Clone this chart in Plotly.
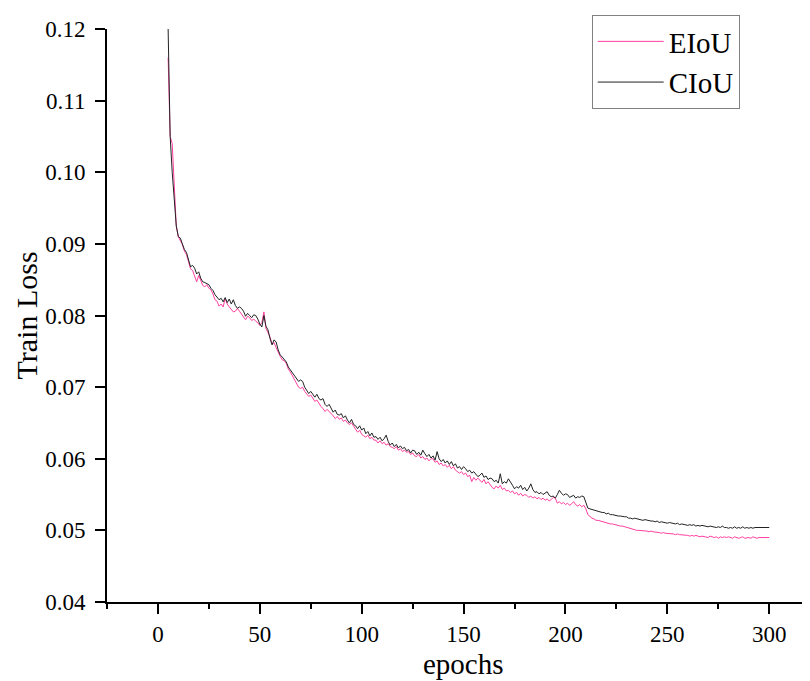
import plotly.graph_objects as go

epochs = list(range(5, 301))

ciou = [
    0.1200, 0.1050, 0.1000, 0.0960, 0.0925, 0.0910, 0.0908, 0.0900, 0.0892, 0.0888,  # 5-14
    0.0878, 0.0868, 0.0870, 0.0866, 0.0858, 0.0861, 0.0852, 0.0847, 0.0846, 0.0844,  # 15-24
    0.0843, 0.0838, 0.0835, 0.0829, 0.0826, 0.0822, 0.0824, 0.0819, 0.0825, 0.0818,  # 25-34
    0.0823, 0.0816, 0.0822, 0.0814, 0.0810, 0.0812, 0.0810, 0.0806, 0.0799, 0.0803,  # 35-44
    0.0800, 0.0797, 0.0801, 0.0800, 0.0795, 0.0788, 0.0784, 0.0800, 0.0785, 0.0780,  # 45-54
    0.0768, 0.0759, 0.0766, 0.0763, 0.0752, 0.0745, 0.0742, 0.0738, 0.0735, 0.0728,  # 55-64
    0.0724, 0.0720, 0.0716, 0.0712, 0.0708, 0.0710, 0.0708, 0.0700, 0.0695, 0.0691,  # 65-74
    0.0694, 0.0689, 0.0686, 0.0690, 0.0684, 0.0682, 0.0684, 0.0676, 0.0673, 0.0676,  # 75-84
    0.0670, 0.0665, 0.0668, 0.0662, 0.0661, 0.0663, 0.0657, 0.0660, 0.0654, 0.0650,  # 85-94
    0.0655, 0.0648, 0.0646, 0.0642, 0.0646, 0.0640, 0.0643, 0.0635, 0.0638, 0.0632,  # 95-104
    0.0636, 0.0630, 0.0631, 0.0627, 0.0630, 0.0625, 0.0628, 0.0633, 0.0624, 0.0619,  # 105-114
    0.0622, 0.0617, 0.0620, 0.0615, 0.0618, 0.0614, 0.0616, 0.0611, 0.0613, 0.0608,  # 115-124
    0.0612, 0.0611, 0.0606, 0.0609, 0.0605, 0.0612, 0.0607, 0.0603, 0.0606, 0.0601,  # 125-134
    0.0604, 0.0598, 0.0610, 0.0600, 0.0596, 0.0599, 0.0594, 0.0597, 0.0592, 0.0596,  # 135-144
    0.0590, 0.0593, 0.0587, 0.0589, 0.0585, 0.0589, 0.0586, 0.0582, 0.0584, 0.0580,  # 145-154
    0.0582, 0.0579, 0.0575, 0.0577, 0.0580, 0.0574, 0.0576, 0.0571, 0.0573, 0.0572,  # 155-164
    0.0568, 0.0570, 0.0566, 0.0579, 0.0565, 0.0568, 0.0566, 0.0572, 0.0568, 0.0563,  # 165-174
    0.0558, 0.0561, 0.0559, 0.0563, 0.0557, 0.0560, 0.0555, 0.0559, 0.0565, 0.0557,  # 175-184
    0.0553, 0.0554, 0.0551, 0.0553, 0.0550, 0.0552, 0.0554, 0.0549, 0.0547, 0.0548,  # 185-194
    0.0545, 0.0550, 0.0556, 0.0552, 0.0549, 0.0551, 0.0550, 0.0546, 0.0548, 0.0549,  # 195-204
    0.0545, 0.0547, 0.0546, 0.0548, 0.0547, 0.0540, 0.0531, 0.0530, 0.0529, 0.0528,  # 205-214
    0.0527, 0.0526, 0.0526, 0.0525, 0.0525, 0.0523, 0.0524, 0.0522, 0.0522, 0.0521,  # 215-224
    0.0521, 0.0520, 0.0520, 0.0519, 0.0519, 0.0519, 0.0517, 0.0517, 0.0516, 0.0517,  # 225-234
    0.0516, 0.0515, 0.0515, 0.0514, 0.0515, 0.0514, 0.0514, 0.0513, 0.0513, 0.0512,  # 235-244
    0.0513, 0.0511, 0.0512, 0.0511, 0.0511, 0.0510, 0.0511, 0.0510, 0.0509, 0.0509,  # 245-254
    0.0510, 0.0508, 0.0509, 0.0508, 0.0508, 0.0507, 0.0508, 0.0507, 0.0508, 0.0506,  # 255-264
    0.0507, 0.0506, 0.0507, 0.0506, 0.0506, 0.0505, 0.0506, 0.0505, 0.0505, 0.0504,  # 265-274
    0.0505, 0.0504, 0.0506, 0.0504, 0.0504, 0.0503, 0.0504, 0.0503, 0.0505, 0.0503,  # 275-284
    0.0504, 0.0503, 0.0505, 0.0503, 0.0504, 0.0503, 0.0504, 0.0503, 0.0504, 0.0504,  # 285-294
    0.0505, 0.0504, 0.0504, 0.0504, 0.0505, 0.0504,                                  # 295-300
]

eiou = [
    0.1160, 0.1050, 0.1040, 0.0970, 0.0925, 0.0910, 0.0905, 0.0899, 0.0890, 0.0885,  # 5-14
    0.0875, 0.0865, 0.0863, 0.0855, 0.0847, 0.0856, 0.0849, 0.0842, 0.0840, 0.0843,  # 15-24
    0.0838, 0.0836, 0.0830, 0.0822, 0.0820, 0.0813, 0.0816, 0.0812, 0.0824, 0.0816,  # 25-34
    0.0812, 0.0808, 0.0805, 0.0806, 0.0810, 0.0806, 0.0802, 0.0798, 0.0794, 0.0799,  # 35-44
    0.0797, 0.0793, 0.0795, 0.0792, 0.0790, 0.0786, 0.0790, 0.0805, 0.0782, 0.0776,  # 45-54
    0.0770, 0.0760, 0.0762, 0.0755, 0.0748, 0.0743, 0.0738, 0.0737, 0.0733, 0.0725,  # 55-64
    0.0721, 0.0716, 0.0712, 0.0706, 0.0700, 0.0698, 0.0700, 0.0694, 0.0690, 0.0687,  # 65-74
    0.0689, 0.0684, 0.0680, 0.0682, 0.0677, 0.0673, 0.0670, 0.0666, 0.0669, 0.0666,  # 75-84
    0.0664, 0.0660, 0.0656, 0.0659, 0.0655, 0.0657, 0.0652, 0.0654, 0.0650, 0.0648,  # 85-94
    0.0650, 0.0645, 0.0641, 0.0637, 0.0640, 0.0634, 0.0632, 0.0630, 0.0633, 0.0628,  # 95-104
    0.0630, 0.0626, 0.0626, 0.0622, 0.0625, 0.0621, 0.0623, 0.0619, 0.0621, 0.0617,  # 105-114
    0.0616, 0.0614, 0.0617, 0.0612, 0.0614, 0.0610, 0.0612, 0.0609, 0.0610, 0.0606,  # 115-124
    0.0608, 0.0604, 0.0603, 0.0606, 0.0601, 0.0603, 0.0599, 0.0601, 0.0597, 0.0600,  # 125-134
    0.0600, 0.0595, 0.0597, 0.0592, 0.0594, 0.0590, 0.0592, 0.0588, 0.0591, 0.0586,  # 135-144
    0.0589, 0.0584, 0.0582, 0.0580, 0.0582, 0.0578, 0.0580, 0.0575, 0.0577, 0.0568,  # 145-154
    0.0574, 0.0570, 0.0573, 0.0570, 0.0567, 0.0571, 0.0565, 0.0568, 0.0563, 0.0560,  # 155-164
    0.0558, 0.0562, 0.0559, 0.0563, 0.0557, 0.0559, 0.0555, 0.0556, 0.0553, 0.0555,  # 165-174
    0.0551, 0.0553, 0.0549, 0.0552, 0.0548, 0.0550, 0.0549, 0.0546, 0.0548, 0.0545,  # 175-184
    0.0547, 0.0544, 0.0546, 0.0543, 0.0545, 0.0542, 0.0544, 0.0541, 0.0543, 0.0546,  # 185-194
    0.0545, 0.0538, 0.0540, 0.0537, 0.0539, 0.0536, 0.0538, 0.0535, 0.0537, 0.0540,  # 195-204
    0.0536, 0.0534, 0.0536, 0.0533, 0.0535, 0.0530, 0.0522, 0.0519, 0.0517, 0.0516,  # 205-214
    0.0514, 0.0514, 0.0513, 0.0512, 0.0511, 0.0511, 0.0510, 0.0509, 0.0509, 0.0508,  # 215-224
    0.0507, 0.0507, 0.0506, 0.0506, 0.0505, 0.0504, 0.0503, 0.0503, 0.0502, 0.0501,  # 225-234
    0.0500, 0.0500, 0.0500, 0.0499, 0.0500, 0.0499, 0.0498, 0.0499, 0.0498, 0.0498,  # 235-244
    0.0497, 0.0497, 0.0496, 0.0497, 0.0496, 0.0496, 0.0495, 0.0496, 0.0495, 0.0494,  # 245-254
    0.0495, 0.0494, 0.0494, 0.0493, 0.0494, 0.0493, 0.0492, 0.0493, 0.0492, 0.0493,  # 255-264
    0.0492, 0.0491, 0.0492, 0.0491, 0.0491, 0.0490, 0.0492, 0.0491, 0.0490, 0.0491,  # 265-274
    0.0489, 0.0491, 0.0490, 0.0491, 0.0490, 0.0491, 0.0490, 0.0489, 0.0491, 0.0490,  # 275-284
    0.0489, 0.0490, 0.0491, 0.0489, 0.0490, 0.0490, 0.0489, 0.0491, 0.0490, 0.0489,  # 285-294
    0.0490, 0.0490, 0.0489, 0.0490, 0.0489, 0.0490,                                  # 295-300
]

x_ticks = [0, 50, 100, 150, 200, 250, 300]
y_ticks = [0.04, 0.05, 0.06, 0.07, 0.08, 0.09, 0.10, 0.11, 0.12]
y_ticklabels = ["0.04", "0.05", "0.06", "0.07", "0.08", "0.09", "0.10", "0.11", "0.12"]

FONT = "Liberation Serif, Times New Roman, serif"

fig = go.Figure()
fig.add_trace(go.Scatter(x=epochs, y=eiou, mode="lines", name="EIoU",
                         line=dict(color="#FF3FA0", width=1)))
fig.add_trace(go.Scatter(x=epochs, y=ciou, mode="lines", name="CIoU",
                         line=dict(color="#222222", width=1)))

# The page body has an 8px margin, so the figure is sized to fit the window.
fig.update_layout(
    width=802, height=673,
    margin=dict(l=99, r=0, t=21, b=79),
    paper_bgcolor="white", plot_bgcolor="white",
    font=dict(family=FONT, color="black"),
    showlegend=True,
    legend=dict(
        x=0.6895, y=1.0244, xanchor="left", yanchor="top",
        bgcolor="white", bordercolor="#808080", borderwidth=1,
        font=dict(family=FONT, size=29, color="black"),
        itemwidth=66, tracegroupgap=0,
    ),
    xaxis=dict(
        range=[-25, 320], tickmode="array", tickvals=x_ticks,
        ticktext=[str(v) for v in x_ticks],
        showgrid=False, zeroline=False,
        showline=True, linecolor="black", linewidth=2,
        ticks="outside", ticklen=10, tickwidth=2, tickcolor="black",
        tickfont=dict(family=FONT, size=23, color="black"),
        minor=dict(dtick=25, tick0=0, ticks="outside", ticklen=5,
                   tickwidth=2, tickcolor="black", showgrid=False),
    ),
    yaxis=dict(
        range=[0.04, 0.12], tickmode="array", tickvals=y_ticks,
        ticktext=y_ticklabels,
        showgrid=False, zeroline=False,
        showline=True, linecolor="black", linewidth=2,
        ticks="outside", ticklen=10, tickwidth=2, tickcolor="black",
        ticklabelstandoff=5,
        tickfont=dict(family=FONT, size=23, color="black"),
    ),
    annotations=[
        dict(text="epochs", xref="x", yref="paper", x=150, y=-0.108,
             xanchor="center", yanchor="middle", showarrow=False,
             font=dict(family=FONT, size=29, color="black")),
        dict(text="Train Loss", xref="paper", yref="paper", x=-0.1138, y=0.5,
             xanchor="center", yanchor="middle", showarrow=False, textangle=-90,
             font=dict(family=FONT, size=30, color="black")),
    ],
)

fig.write_html("out.html")
